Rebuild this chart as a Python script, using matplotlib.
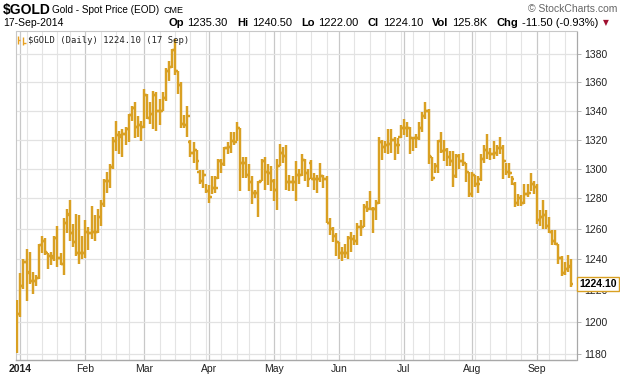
import numpy as np
import pandas as pd
import matplotlib
matplotlib.use("Agg")
import matplotlib.pyplot as plt
from matplotlib.ticker import FixedLocator, NullLocator

# trading days shown: Dec 31 2013 .. Sep 17 2014
holidays = ['2014-01-01', '2014-01-20', '2014-02-17', '2014-04-18',
            '2014-05-26', '2014-07-04', '2014-09-01']
dates = pd.bdate_range('2013-12-31', '2014-09-17').drop(pd.to_datetime(holidays))

opens = [1202, 1205, 1223, 1238, 1231, 1226, 1226, 1228, 1249, 1252,
         1244, 1242, 1241, 1254, 1241, 1237, 1264, 1270, 1257, 1251,
         1244, 1244, 1244, 1258, 1257, 1258, 1258, 1268, 1276, 1292,
         1292, 1301, 1319, 1323, 1322, 1324, 1327, 1337, 1342, 1329,
         1330, 1329, 1351, 1335, 1338, 1351, 1340, 1340, 1349, 1368,
         1371, 1383, 1368, 1358, 1331, 1330, 1318, 1311, 1313, 1298,
         1292, 1296, 1285, 1281, 1287, 1294, 1305, 1303, 1314, 1315,
         1319, 1318, 1328, 1304, 1304, 1296, 1291, 1284, 1284, 1292,
         1305, 1298, 1297, 1292, 1286, 1302, 1311, 1309, 1291, 1291,
         1291, 1296, 1296, 1306, 1297, 1304, 1293, 1293, 1293, 1295,
         1293, 1264, 1260, 1255, 1251, 1244, 1244, 1244, 1254, 1253,
         1252, 1261, 1261, 1274, 1273, 1273, 1273, 1277, 1318, 1315,
         1316, 1317, 1320, 1316, 1322, 1328, 1328, 1328, 1321, 1321,
         1321, 1328, 1336, 1340, 1308, 1294, 1302, 1319, 1312, 1313,
         1308, 1305, 1295, 1309, 1305, 1304, 1298, 1283, 1296, 1290,
         1293, 1307, 1313, 1311, 1310, 1311, 1314, 1314, 1305, 1298,
         1297, 1290, 1277, 1280, 1277, 1283, 1284, 1290, 1288, 1266,
         1268, 1269, 1262, 1258, 1252, 1250, 1241, 1231, 1234, 1235.3]
highs = [1214, 1231, 1240, 1247, 1245, 1232, 1230, 1250, 1255, 1254,
         1244, 1245, 1255, 1262, 1244, 1267, 1273, 1279, 1263, 1270,
         1269, 1255, 1266, 1261, 1275, 1269, 1273, 1279, 1293, 1298,
         1303, 1322, 1333, 1326, 1327, 1329, 1338, 1343, 1346, 1336,
         1333, 1355, 1352, 1346, 1354, 1353, 1348, 1353, 1370, 1375,
         1384, 1391, 1368, 1360, 1337, 1343, 1320, 1318, 1313, 1299,
         1299, 1290, 1289, 1295, 1295, 1307, 1307, 1315, 1318, 1325,
         1325, 1332, 1328, 1308, 1308, 1303, 1295, 1286, 1292, 1307,
         1308, 1303, 1302, 1293, 1307, 1317, 1315, 1316, 1296, 1295,
         1305, 1300, 1310, 1307, 1300, 1306, 1297, 1296, 1304, 1296,
         1295, 1267, 1261, 1257, 1251, 1248, 1250, 1255, 1258, 1256,
         1264, 1266, 1276, 1278, 1285, 1274, 1279, 1322, 1320, 1319,
         1327, 1327, 1322, 1321, 1330, 1334, 1332, 1329, 1322, 1324,
         1332, 1339, 1346, 1341, 1308, 1304, 1320, 1325, 1320, 1314,
         1312, 1312, 1310, 1310, 1311, 1304, 1298, 1298, 1296, 1295,
         1310, 1316, 1324, 1314, 1319, 1316, 1322, 1316, 1304, 1304,
         1295, 1291, 1283, 1282, 1290, 1290, 1297, 1292, 1290, 1272,
         1279, 1272, 1268, 1259, 1259, 1250, 1242, 1238, 1243, 1240.5]
lows = [1181, 1203, 1221, 1213, 1224, 1218, 1223, 1227, 1244, 1243,
        1234, 1236, 1239, 1235, 1236, 1230, 1257, 1252, 1248, 1242,
        1237, 1240, 1241, 1246, 1253, 1252, 1257, 1262, 1274, 1284,
        1287, 1300, 1312, 1310, 1308, 1316, 1318, 1333, 1321, 1322,
        1319, 1328, 1334, 1331, 1327, 1326, 1330, 1340, 1347, 1361,
        1370, 1365, 1352, 1328, 1328, 1322, 1308, 1304, 1299, 1290,
        1287, 1284, 1277, 1283, 1284, 1293, 1297, 1302, 1310, 1311,
        1316, 1319, 1285, 1294, 1294, 1285, 1276, 1280, 1268, 1292,
        1286, 1289, 1285, 1278, 1272, 1302, 1304, 1286, 1285, 1285,
        1278, 1290, 1295, 1292, 1288, 1293, 1286, 1284, 1291, 1287,
        1264, 1256, 1251, 1242, 1240, 1239, 1241, 1240, 1245, 1249,
        1249, 1255, 1261, 1271, 1272, 1257, 1266, 1276, 1306, 1311,
        1310, 1311, 1306, 1310, 1321, 1323, 1322, 1310, 1312, 1314,
        1320, 1325, 1334, 1303, 1292, 1297, 1297, 1311, 1305, 1302,
        1302, 1288, 1294, 1300, 1302, 1291, 1281, 1281, 1288, 1284,
        1292, 1304, 1307, 1306, 1307, 1309, 1310, 1293, 1296, 1294,
        1289, 1274, 1275, 1275, 1276, 1281, 1285, 1283, 1263, 1262,
        1260, 1260, 1257, 1249, 1249, 1237, 1229, 1230, 1232, 1222]
closes = [1205, 1223, 1238, 1232, 1226, 1226, 1228, 1249, 1252, 1245,
          1242, 1242, 1254, 1241, 1237, 1264, 1269, 1257, 1251, 1244,
          1244, 1244, 1258, 1257, 1258, 1258, 1268, 1276, 1292, 1292,
          1301, 1319, 1323, 1323, 1324, 1327, 1337, 1342, 1329, 1330,
          1329, 1351, 1335, 1338, 1351, 1340, 1340, 1349, 1368, 1371,
          1383, 1368, 1358, 1331, 1330, 1336, 1311, 1313, 1305, 1292,
          1296, 1285, 1281, 1287, 1287, 1305, 1303, 1314, 1315, 1319,
          1318, 1328, 1304, 1304, 1296, 1291, 1284, 1284, 1291, 1305,
          1298, 1297, 1292, 1286, 1302, 1311, 1309, 1291, 1291, 1291,
          1296, 1296, 1306, 1297, 1293, 1293, 1293, 1293, 1295, 1293,
          1264, 1260, 1255, 1251, 1244, 1244, 1244, 1254, 1253, 1252,
          1261, 1261, 1274, 1273, 1273, 1273, 1277, 1318, 1315, 1316,
          1317, 1320, 1316, 1316, 1328, 1328, 1328, 1321, 1321, 1321,
          1328, 1336, 1340, 1309, 1294, 1302, 1319, 1312, 1313, 1308,
          1305, 1295, 1309, 1305, 1304, 1298, 1283, 1296, 1290, 1290,
          1307, 1313, 1311, 1310, 1311, 1314, 1314, 1305, 1298, 1297,
          1293, 1277, 1280, 1277, 1283, 1284, 1290, 1288, 1266, 1268,
          1269, 1262, 1258, 1252, 1250, 1241, 1231, 1234, 1235.6, 1224.1]

price_ticks = [1180, 1200, 1220, 1240, 1260, 1280, 1300, 1320, 1340, 1360, 1380]
month_names = ['2014', 'Feb', 'Mar', 'Apr', 'May', 'Jun', 'Jul', 'Aug', 'Sep']

GOLD = '#D9A023'
W, H = 620, 376
FONT = 'Liberation Sans'

fig = plt.figure(figsize=(W / 100, H / 100), dpi=100)
fig.patch.set_facecolor('white')
ax = fig.add_axes([16 / W, (H - 359.5) / H, (577 - 16) / W, (359.5 - 31.5) / H])

x = np.arange(len(dates))
month_start = [i for i in range(1, len(dates)) if dates[i].month != dates[i - 1].month]
week_start = [i for i in range(1, len(dates))
              if dates[i].isocalendar()[1] != dates[i - 1].isocalendar()[1] and i not in month_start]

# grid
for i in week_start:
    ax.axvline(i, color='#E4E4E4', lw=0.8, zorder=0)
for i in month_start:
    ax.axvline(i, color='#C8C8C8', lw=0.9, zorder=0)
for p in price_ticks:
    ax.axhline(p, color='#E2E2E2', lw=0.9, zorder=0)

# OHLC bars
lw = 1.75
ax.vlines(x, lows, highs, color=GOLD, lw=lw, zorder=3)
ax.hlines(opens, x - 0.75, x, color=GOLD, lw=lw, zorder=3)
ax.hlines(closes, x, x + 0.75, color=GOLD, lw=lw, zorder=3)

ax.set_yscale('log')
ax.set_ylim(1176.8, 1396.6)
ax.set_xlim(-0.42, 181.0)

ax.yaxis.tick_right()
ax.yaxis.set_major_locator(FixedLocator(price_ticks))
ax.yaxis.set_minor_locator(NullLocator())
ax.set_yticklabels([str(p) for p in price_ticks], fontsize=7.5, family=FONT, color='#222222')
ax.tick_params(axis='y', length=3, width=0.6, color='#A8A8A8', pad=2)

ax.set_xticks(month_start)
ax.set_xticklabels(month_names, fontsize=7.5, family=FONT, color='#222222')
ax.get_xticklabels()[0].set_fontweight('bold')
ax.tick_params(axis='x', length=0, pad=3.5)
ax.xaxis.set_minor_locator(NullLocator())

for s in ['top', 'left']:
    ax.spines[s].set_color('#C8C8C8')
    ax.spines[s].set_linewidth(0.8)
ax.spines['right'].set_color('#A8A8A8')
ax.spines['right'].set_linewidth(0.9)
ax.spines['bottom'].set_color('#A8A8A8')
ax.spines['bottom'].set_linestyle((0, (1, 1)))
ax.spines['bottom'].set_linewidth(1.0)

# last price tag (sits over the 1220 label, as in the source)
ax.text(1.004, closes[-1], f'{closes[-1]:.2f}', transform=ax.get_yaxis_transform(),
        fontsize=7.5, family=FONT, weight='bold', va='center', ha='left', zorder=10,
        bbox=dict(boxstyle='square,pad=0.18', fc='white', ec=GOLD, lw=1.0), clip_on=False)

# legend inside plot
ax.vlines([0.004, 0.013], [0.962, 0.958], [0.985, 0.982], transform=ax.transAxes,
          color='#E8A020', lw=1.0)
ax.hlines([0.975, 0.966], [0.004, 0.013], [0.008, 0.017], transform=ax.transAxes,
          color='#E8A020', lw=1.0)
ax.text(0.021, 0.973, f'\\$GOLD (Daily) {closes[-1]:.2f} (17 Sep)', transform=ax.transAxes,
        fontsize=6.4, family='DejaVu Sans Mono', color='#222222', va='center', ha='left')


# header
def fx(px):
    return px / W


def fy(py):
    return 1 - py / H


renderer = fig.canvas.get_renderer()

fig.text(fx(3), fy(10), '\\$GOLD', fontsize=10, weight='bold', family=FONT, va='center')
t = fig.text(fx(52), fy(10), 'Gold - Spot Price (EOD)', fontsize=7.2, family=FONT, va='center')
cme_x = 52 + t.get_window_extent(renderer).width + 4
fig.text(fx(cme_x), fy(10.5), 'CME', fontsize=6.5, family=FONT, va='center')
fig.text(fx(617), fy(9), '\u00a9 StockCharts.com', fontsize=7.5, family=FONT, va='center',
         ha='right', color='#666666')
fig.text(fx(3), fy(23), '17-Sep-2014', fontsize=7.5, family=FONT, va='center')

parts = [('Op', True), ('1235.30', False), ('Hi', True), ('1240.50', False),
         ('Lo', True), ('1222.00', False), ('Cl', True), ('1224.10', False),
         ('Vol', True), ('125.8K', False), ('Chg', True), ('-11.50 (-0.93%)', False)]
cur = 168
for txt, bold in parts:
    t = fig.text(fx(cur), fy(23), txt, fontsize=8, family=FONT, va='center',
                 weight='bold' if bold else 'normal')
    w = t.get_window_extent(renderer).width
    cur += w + (4 if bold else 9)
fig.text(fx(cur - 5), fy(23), '\u25bc', fontsize=5.5, color='#A01030', va='center')

fig.savefig('out.png', dpi=100)
